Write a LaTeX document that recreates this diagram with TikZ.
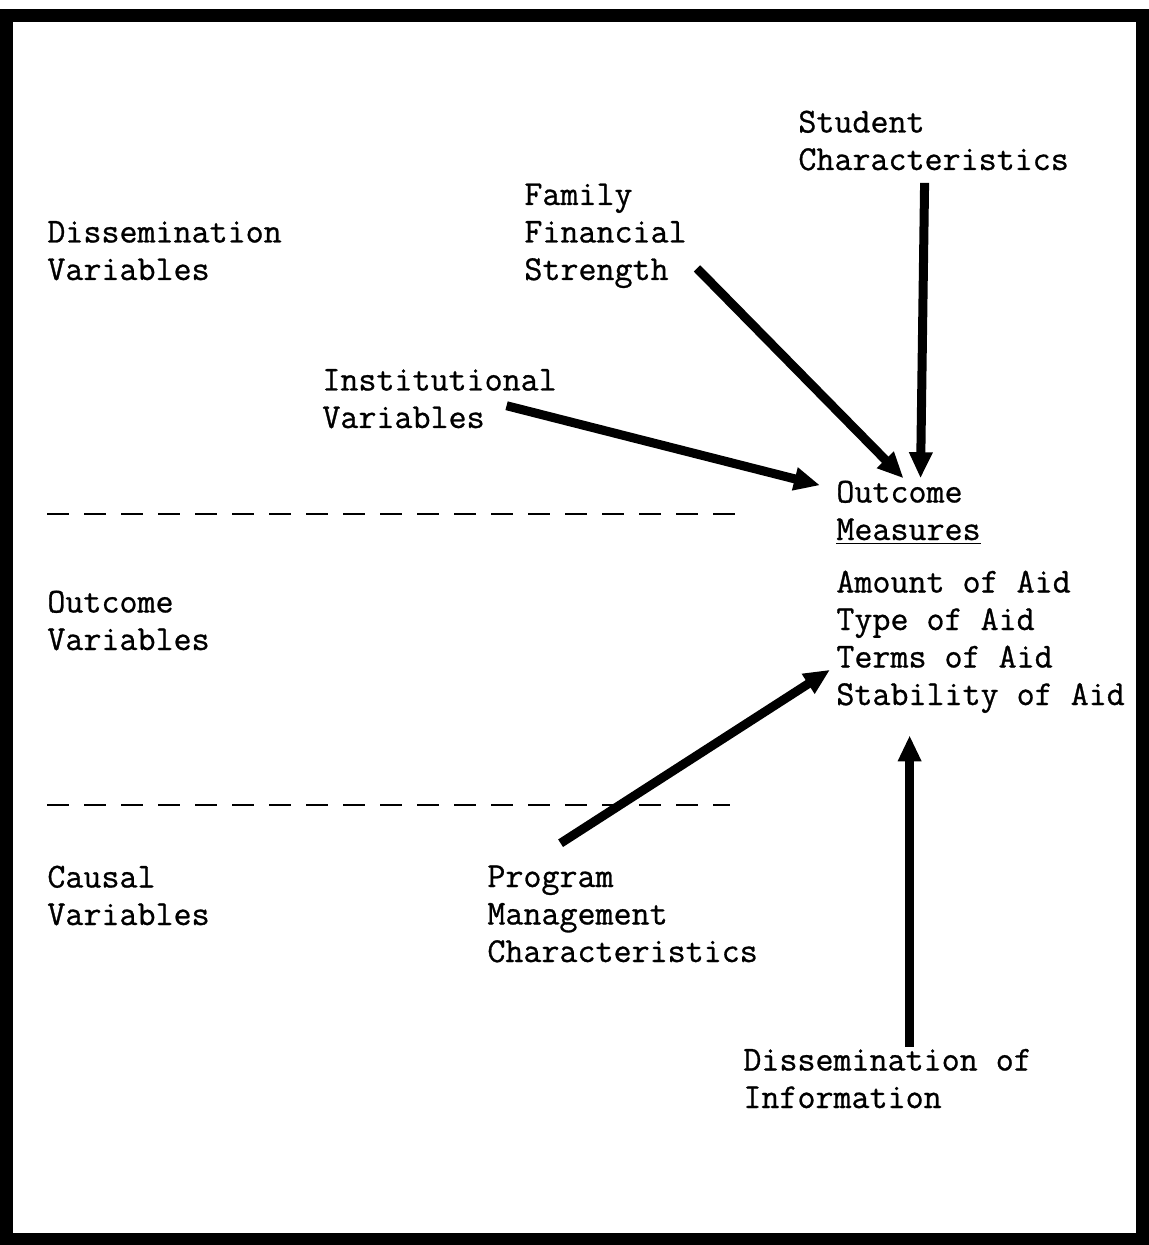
\documentclass[tikz,border=0pt]{standalone}
\usepackage{fontspec}
\newfontfamily\typewr[FakeBold=0.8]{Latin Modern Mono}
\usetikzlibrary{positioning}
\usetikzlibrary{arrows.meta}

\begin{document}
\begin{tikzpicture}[x=0.5pt,y=-0.5pt,
    txt/.style={anchor=base west, align=left, inner sep=0pt,
        font=\typewr\fontsize{17.5}{18.75}\selectfont},
    flow/.style={line width=4.5pt, -{Triangle[length=13pt,width=11pt]}},
    sep/.style={line width=1.4pt, dash pattern=on 11pt off 7.5pt}]
    \useasboundingbox (0,0) rectangle (1148,1245);

    % frame
    \draw[line width=6.5pt] (6,16) rectangle (1142,1239);

    % row labels (placed at the baseline of their last line)
    \node[txt] (dv) at (47,280) {Dissemination\\Variables};
    \node[txt] (ov) at (47,650) {Outcome\\Variables};
    \node[txt] (cv) at (47,925) {Causal\\Variables};

    % separators
    \draw[sep] (47,514) -- (745,514);
    \draw[sep] (47,805) -- (730,805);

    % variables
    \node[txt] (st)   at (798,170)  {Student\\Characteristics};
    \node[txt] (ff)   at (524,280)  {Family\\Financial\\Strength};
    \node[txt] (inst) at (322,428)  {Institutional\\Variables};
    \node[txt] (pm)   at (487,962)  {Program\\Management\\Characteristics};
    \node[txt] (di)   at (743,1108) {Dissemination of\\Information};

    % outcome measures
    \node[txt] (om)  at (836,540) {Outcome\\\underline{Measures}};
    \node[txt] (aid) at (836,705) {Amount of Aid\\Type of Aid\\Terms of Aid\\Stability of Aid};

    % arrows
    \draw[flow] ([shift={(-9,12)}]st.south) -- ([shift={(12,-2)}]om.north);
    \draw[flow] ([shift={(10,-20)}]ff.south east) -- ([shift={(-5,-2)}]om.north);
    \draw[flow] ([shift={(67,-23)}]inst.south) -- ([shift={(-16,5)}]om.north west);
    \draw[flow] ([shift={(-62,-22)}]pm.north) -- ([shift={(-6,28)}]aid.west);
    \draw[flow] ([shift={(22,-2)}]di.north) -- ([shift={(-71,22)}]aid.south);
\end{tikzpicture}
\end{document}
